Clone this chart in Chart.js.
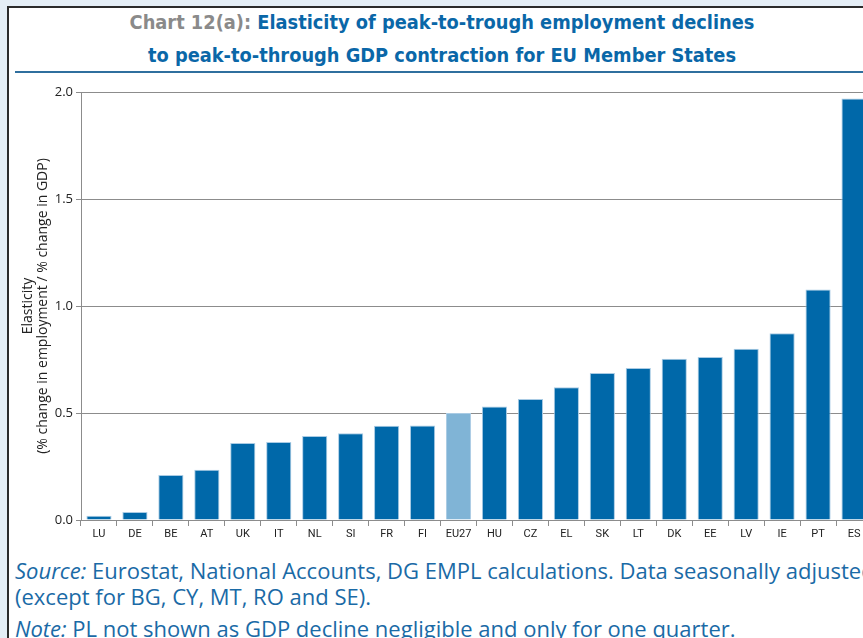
<!DOCTYPE html>
<html>
<head>
<meta charset="utf-8">
<script src="https://cdn.jsdelivr.net/npm/chart.js@4.4.0/dist/chart.umd.min.js"></script>
<style>
    html, body { margin: 0; padding: 0; width: 863px; height: 638px; overflow: hidden; background: #e4eef6; }
    #panel {
        position: absolute; left: 7px; top: 6px; width: 900px; height: 700px;
        background: #fff; border-left: 2px solid #2b2b2b; border-top: 2px solid #2b2b2b;
    }
    #title {
        position: absolute; left: 0; top: -2px; width: 866px; text-align: center;
        font-family: 'DejaVu Sans', sans-serif; font-stretch: condensed;
        font-weight: bold; font-size: 20px; line-height: 33px; color: #0a67a8;
        transform: scaleX(0.99); transform-origin: 50% 50%;
    }
    #title .lead { color: #8a8a8a; }
    #rule { position: absolute; left: 6px; top: 63px; width: 900px; height: 2px; background: #2f6f9e; }
    #wrap { position: absolute; left: 10px; top: 80px; width: 862px; height: 466px; }
    .note {
        position: absolute; left: 15px; white-space: nowrap;
        font-family: 'Open Sans', 'Noto Sans', sans-serif; font-size: 22px; color: #1a6aa6;
    }
</style>
</head>
<body>
<div id="panel">
    <div id="title"><span class="lead">Chart 12(a):</span> Elasticity of peak-to-trough employment declines<br>to peak-to-through GDP contraction for EU Member States</div>
    <div id="rule"></div>
</div>
<div id="wrap"><canvas id="chart"></canvas></div>
<div class="note" style="top:555px"><i>Source:</i> Eurostat, National Accounts, DG EMPL calculations. Data seasonally adjusted</div>
<div class="note" style="top:581px">(except for BG, CY, MT, RO and SE).</div>
<div class="note" style="top:613px"><i>Note:</i> PL not shown as GDP decline negligible and only for one quarter.</div>
<script>
// Countries, sorted by elasticity
const countries = ['LU', 'DE', 'BE', 'AT', 'UK', 'IT', 'NL', 'SI', 'FR', 'FI', 'EU27',
    'HU', 'CZ', 'EL', 'SK', 'LT', 'DK', 'EE', 'LV', 'IE', 'PT', 'ES'];
const elasticity = [0.02, 0.037, 0.21, 0.235, 0.36, 0.365, 0.393, 0.405, 0.44, 0.442, 0.50,
    0.53, 0.565, 0.62, 0.687, 0.71, 0.753, 0.762, 0.80, 0.873, 1.077, 1.97];
const yTicks = [0, 0.5, 1.0, 1.5, 2.0];

const blue = '#0068a9';
const lightBlue = '#80b4d6';
const gridGrey = '#8c8c8c';

const barColors = countries.map(c => c === 'EU27' ? lightBlue : blue);

const ctx = document.getElementById('chart').getContext('2d');
new Chart(ctx, {
    type: 'bar',
    data: {
        labels: countries,
        datasets: [{
            data: elasticity,
            backgroundColor: barColors,
            borderColor: '#a9cbe4',
            borderWidth: 1,
            barPercentage: 0.7,
            categoryPercentage: 1.0
        }]
    },
    options: {
        responsive: true,
        maintainAspectRatio: false,
        animation: false,
        layout: { padding: { top: 12, right: 0, left: 0, bottom: 0 } },
        plugins: {
            legend: { display: false },
            tooltip: { enabled: false }
        },
        scales: {
            x: {
                grid: {
                    offset: true,
                    drawOnChartArea: false,
                    drawTicks: true,
                    tickLength: 6,
                    color: gridGrey
                },
                border: { display: true, color: gridGrey, width: 1 },
                ticks: {
                    color: '#222',
                    padding: 2,
                    autoSkip: false,
                    maxRotation: 0,
                    font: { family: "Roboto, sans-serif", size: 11 }
                },
                afterFit: s => { s.height = 26; }
            },
            y: {
                min: 0,
                max: 2.0,
                afterBuildTicks: s => { s.ticks = yTicks.map(v => ({ value: v })); },
                grid: {
                    color: gridGrey,
                    tickLength: 5,
                    lineWidth: 1
                },
                border: { display: true, color: gridGrey },
                ticks: {
                    color: '#222',
                    padding: 3,
                    callback: v => v.toFixed(1),
                    font: { family: "'Open Sans', 'Noto Sans', sans-serif", size: 13 }
                },
                title: {
                    display: true,
                    text: ['Elasticity', '(% change in employment / % change in GDP)'],
                    color: '#222',
                    padding: { top: 10, bottom: 0 },
                    font: { family: "'Open Sans', 'Noto Sans', sans-serif", size: 14, lineHeight: 1.1 }
                },
                afterFit: s => { s.width = 71; }
            }
        }
    }
});
</script>
</body>
</html>
